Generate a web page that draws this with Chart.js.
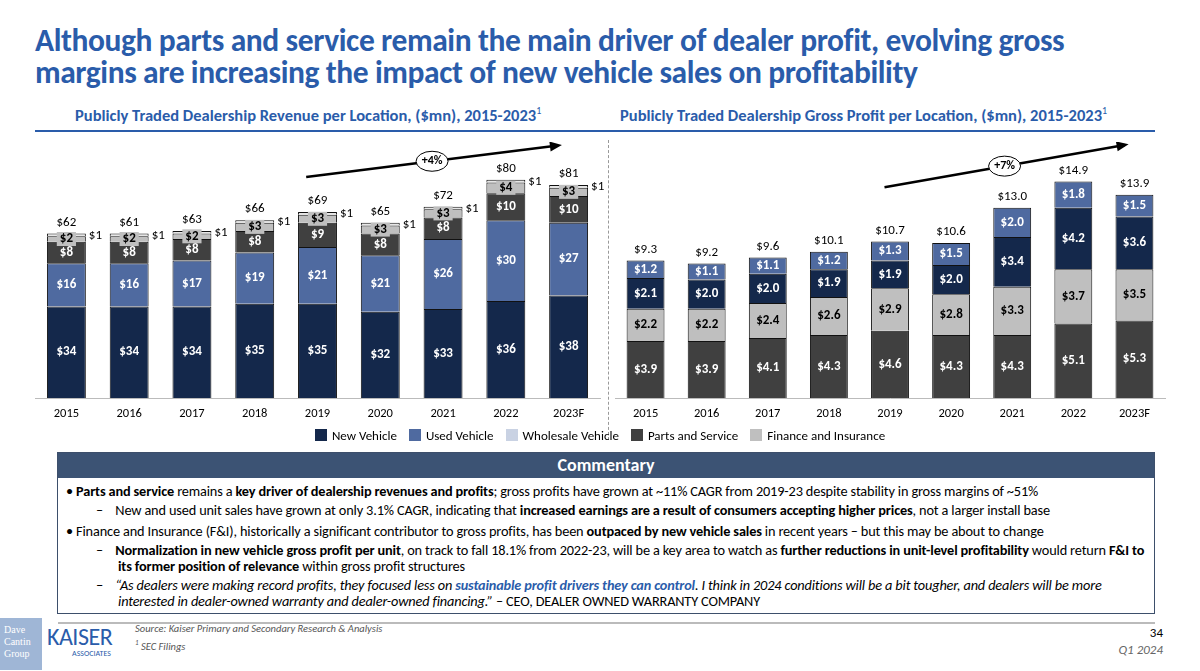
<!DOCTYPE html>
<html><head><meta charset="utf-8">
<script src="https://cdn.jsdelivr.net/npm/chart.js@4.4.0/dist/chart.umd.min.js"></script>
<style>
body{margin:0;width:1200px;height:671px;position:relative;font-family:Calibri,Carlito,"Open Sans",sans-serif;background:#fff;overflow:hidden}
.abs{position:absolute}
#title{left:35px;top:24px;font-size:31.5px;font-weight:bold;color:#2a5caa;line-height:32px;letter-spacing:-0.4px;white-space:nowrap}
.sub{top:104px;font-size:16.5px;font-weight:bold;color:#2a5caa;white-space:nowrap}
#rule{left:35px;top:130px;width:1120px;height:2px;background:#2a5caa}
#div{left:608px;top:140px;height:300px;border-left:1.5px dashed #999}
#legend{left:0;top:428px;width:1200px;text-align:center;font-size:13px;color:#000}
#legend span{display:inline-block;margin:0 6px}
#legend i{display:inline-block;width:12px;height:12px;vertical-align:-1px;margin-right:5px}
#box{left:57px;top:452px;width:1096px;height:160px;border:1px solid #3d4f6b}
#boxh{background:#3c5374;color:#fff;font-weight:bold;text-align:center;font-size:18px;height:25px;line-height:25px}
#box p{margin:0;font-size:14.3px;line-height:16px;color:#000;letter-spacing:-0.15px}
.b1{padding-left:20px;text-indent:-12px;margin-top:5px!important}
.b2{padding-left:60px;text-indent:-22px;margin-top:3px!important}
.q{color:#2a5caa;font-weight:bold}
#foot{left:58px;top:622px;width:1097px;border-top:2px solid #bbb}
</style></head><body>
<div id="title" class="abs">Although parts and service remain the main driver of dealer profit, evolving gross<br>margins are increasing the impact of new vehicle sales on profitability</div>
<div class="abs sub" style="left:75px">Publicly Traded Dealership Revenue per Location, ($mn), 2015-2023<sup style="font-weight:normal;font-size:10px">1</sup></div>
<div class="abs sub" style="left:620px">Publicly Traded Dealership Gross Profit per Location, ($mn), 2015-2023<sup style="font-weight:normal;font-size:10px">1</sup></div>
<div id="rule" class="abs"></div>
<div id="div" class="abs"></div>
<div class="abs" style="left:25px;top:142px;width:585px;height:287px"><canvas id="c1"></canvas></div>
<div class="abs" style="left:615px;top:142px;width:560px;height:287px"><canvas id="c2"></canvas></div>
<div id="legend" class="abs">
<span><i style="background:#14284b"></i>New Vehicle</span><span><i style="background:#4f6aa0"></i>Used Vehicle</span><span><i style="background:#c9d2e3"></i>Wholesale Vehicle</span><span><i style="background:#404040"></i>Parts and Service</span><span><i style="background:#bfbfbf"></i>Finance and Insurance</span>
</div>
<div id="box" class="abs"><div id="boxh">Commentary</div>
<p class="b1">• <b>Parts and service</b> remains a <b>key driver of dealership revenues and profits</b>; gross profits have grown at ~11% CAGR from 2019-23 despite stability in gross margins of ~51%</p>
<p class="b2">–&nbsp;&nbsp;&nbsp;&nbsp;New and used unit sales have grown at only 3.1% CAGR, indicating that <b>increased earnings are a result of consumers accepting higher prices</b>, not a larger install base</p>
<p class="b1">• Finance and Insurance (F&amp;I), historically a significant contributor to gross profits, has been <b>outpaced by new vehicle sales</b> in recent years – but this may be about to change</p>
<p class="b2">–&nbsp;&nbsp;&nbsp;&nbsp;<b>Normalization in new vehicle gross profit per unit</b>, on track to fall 18.1% from 2022-23, will be a key area to watch as <b>further reductions in unit-level profitability</b> would return <b>F&amp;I to its former position of relevance</b> within gross profit structures</p>
<p class="b2"><i>–&nbsp;&nbsp;&nbsp;&nbsp;“As dealers were making record profits, they focused less on <span class="q">sustainable profit drivers they can control</span>. I think in 2024 conditions will be a bit tougher, and dealers will be more interested in dealer-owned warranty and dealer-owned financing.”</i> – CEO, DEALER OWNED WARRANTY COMPANY</p>
</div>
<div id="foot" class="abs"></div>
<div class="abs" style="left:0;top:618px;width:42px;height:52px;background:#9fb6d6;color:#fff;font-family:serif;font-size:10px;line-height:12px;padding:6px 0 0 4px;box-sizing:border-box">Dave<br>Cantin<br>Group</div>
<div class="abs" style="left:47px;top:622px;color:#2a5caa;font-size:24px;letter-spacing:-0.5px">KAISER</div>
<div class="abs" style="left:72px;top:648px;color:#2a5caa;font-size:8px">ASSOCIATES</div>
<div class="abs" style="left:135px;top:622px;font-size:10.5px;font-style:italic;color:#555;line-height:14px">Source: Kaiser Primary and Secondary Research &amp; Analysis<br><sup style="font-size:7px">1</sup> SEC Filings</div>
<div class="abs" style="right:37px;top:624px;font-size:13px;text-align:right;line-height:17px">34<br><i style="color:#666">Q1 2024</i></div>
<script>
const years=["2015","2016","2017","2018","2019","2020","2021","2022","2023F"];
// Revenue ($mn)
const revNew=[34,34,34,35,35,32,33,36,38];
const revUsed=[16,16,17,19,21,21,26,30,27];
const revPS=[8,8,8,8,9,8,8,10,10];
const revFI=[2,2,2,3,3,3,3,4,3];
const revWhole=[1,1,1,1,1,1,1,1,1];
const revTotal=[62,61,63,66,69,65,72,80,81];
// Gross profit ($mn)
const gpPS=[3.9,3.9,4.1,4.3,4.6,4.3,4.3,5.1,5.3];
const gpFI=[2.2,2.2,2.4,2.6,2.9,2.8,3.3,3.7,3.5];
const gpNew=[2.1,2.0,2.0,1.9,1.9,2.0,3.4,4.2,3.6];
const gpUsed=[1.2,1.1,1.1,1.2,1.3,1.5,2.0,1.8,1.5];
const gpTotal=[9.3,9.2,9.6,10.1,10.7,10.6,13.0,14.9,13.9];
const C={nv:"#14284b",uv:"#4f6aa0",wh:"#e6e6e6",ps:"#404040",fi:"#bfbfbf"};
const FONT='Calibri, Carlito, "Open Sans", sans-serif';
function ds(label,data,color,txt,side){return {label,data,backgroundColor:color,borderColor:"#111",borderWidth:1,txt,side,barPercentage:0.62,categoryPercentage:1};}
function fmt(v,dec){return "$"+(dec?v.toFixed(1):v);}
function mkPlugin(totals,dec,arrow){return {id:"lbl",afterDatasetsDraw(ch){
 const ctx=ch.ctx;ctx.save();ctx.textAlign="center";ctx.textBaseline="middle";
 ch.data.datasets.forEach((d,di)=>{const m=ch.getDatasetMeta(di);m.data.forEach((b,i)=>{
  const v=d.data[i];ctx.font="bold 13px "+FONT;
  if(d.side){ctx.fillStyle="#000";ctx.font="13px "+FONT;ctx.textAlign="left";ctx.fillText(fmt(v,dec),b.x+b.width/2+3,b.y+2);ctx.textAlign="center";return;}
  const cy=(b.y+b.base)/2;
  if(d.txt==="#000"){const w=ctx.measureText(fmt(v,dec)).width+6;ctx.fillStyle=d.backgroundColor;ctx.fillRect(b.x-w/2,cy-7,w,14);}
  ctx.fillStyle=d.txt;ctx.fillText(fmt(v,dec),b.x,cy);});});
 const m0=ch.getDatasetMeta(ch.data.datasets.length-1);ctx.font="13px "+FONT;ctx.fillStyle="#000";
 m0.data.forEach((b,i)=>ctx.fillText(fmt(totals[i],dec),b.x,b.y-11));
 const xs=ch.scales.x,ys=ch.scales.y;const x1=xs.getPixelForValue(arrow[0]),x2=xs.getPixelForValue(arrow[1]);
 const y1=ys.getPixelForValue(arrow[2]),y2=ys.getPixelForValue(arrow[3]);
 ctx.strokeStyle="#000";ctx.lineWidth=2.5;ctx.beginPath();ctx.moveTo(x1,y1);ctx.lineTo(x2,y2);ctx.stroke();
 const a=Math.atan2(y2-y1,x2-x1);ctx.fillStyle="#000";ctx.beginPath();ctx.moveTo(x2+4*Math.cos(a),y2+4*Math.sin(a));
 ctx.lineTo(x2-8*Math.cos(a)+5*Math.sin(a),y2-8*Math.sin(a)-5*Math.cos(a));ctx.lineTo(x2-8*Math.cos(a)-5*Math.sin(a),y2-8*Math.sin(a)+5*Math.cos(a));ctx.fill();
 const mx=(x1+x2)/2,my=(y1+y2)/2;ctx.fillStyle="#fff";ctx.lineWidth=1;ctx.beginPath();ctx.ellipse(mx,my,16,10,0,0,Math.PI*2);ctx.fill();ctx.stroke();
 ctx.fillStyle="#000";ctx.font="bold 12px "+FONT;ctx.fillText(arrow[4],mx,my);ctx.restore();}};}
function opts(max,lp){return {responsive:true,maintainAspectRatio:false,animation:false,plugins:{legend:{display:false},tooltip:{enabled:false}},
 layout:{padding:{top:0,right:10,left:lp}},
 scales:{x:{stacked:true,grid:{display:false,drawTicks:false},border:{color:"#bbb"},ticks:{color:"#000",font:{family:FONT,size:12.5},padding:8}},
 y:{stacked:true,display:false,min:0,max}}};}
new Chart(document.getElementById("c1"),{type:"bar",data:{labels:years,datasets:[
 ds("New Vehicle",revNew,C.nv,"#fff"),ds("Used Vehicle",revUsed,C.uv,"#fff"),ds("Parts and Service",revPS,C.ps,"#fff"),
 ds("Finance and Insurance",revFI,C.fi,"#000"),ds("Wholesale Vehicle",revWhole,C.wh,"#000",true)]},
 options:opts(95,10),plugins:[mkPlugin(revTotal,false,[3.82,7.83,82,93.7,"+4%"])]});
new Chart(document.getElementById("c2"),{type:"bar",data:{labels:years,datasets:[
 ds("Parts and Service",gpPS,C.ps,"#fff"),ds("Finance and Insurance",gpFI,C.fi,"#000"),ds("New Vehicle",gpNew,C.nv,"#fff"),ds("Used Vehicle",gpUsed,C.uv,"#fff")]},
 options:opts(17.5,0),plugins:[mkPlugin(gpTotal,true,[3.91,7.84,14.4,17.3,"+7%"])]});
</script></body></html>
